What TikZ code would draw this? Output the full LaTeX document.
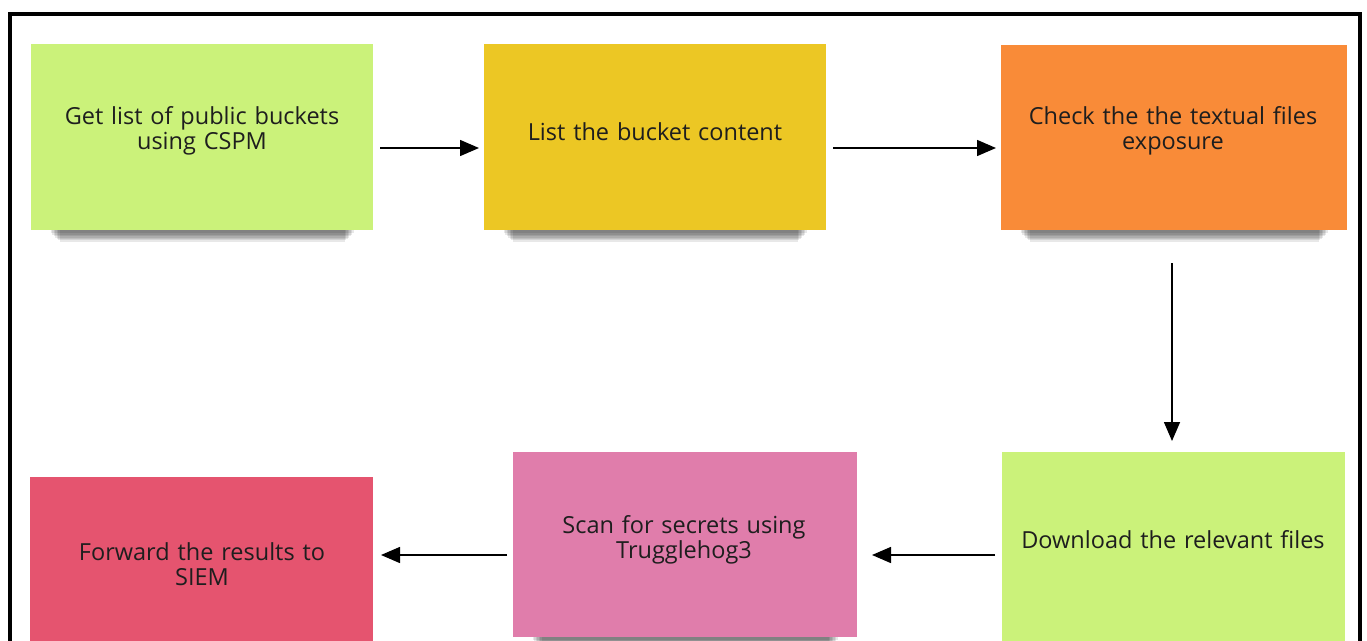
\documentclass[tikz,border=0pt]{standalone}
\usepackage{fontspec}
\setmainfont{Open Sans}
\usetikzlibrary{arrows.meta}
\definecolor{cgreen}{HTML}{CBF27A}
\definecolor{cyellow}{HTML}{ECC724}
\definecolor{corange}{HTML}{F98B38}
\definecolor{cpink}{HTML}{E07DAB}
\definecolor{cred}{HTML}{E5546F}
\definecolor{ctext}{HTML}{1E1E1E}
\tikzset{
  note/.style={draw=none, text=ctext, align=center, text width=330pt,
    font=\fontsize{23.5}{25.5}\selectfont},
  flow/.style={draw=black, line width=1.5pt, -{Triangle[length=19pt,width=16pt]}},
}
\newcommand{\sticky}[6]{% name, x1,y1,x2,y2, color
  \begin{scope}
    \foreach \k in {1,...,7}{
      \fill[black, opacity=0.09] ({#2+18+\k*1.5},{#5-8+\k*0.6}) rectangle ({#4-18-\k*1.5},{#5+2+\k*1.4});
    }
  \end{scope}
  \fill[#6] (#2,#3) rectangle (#4,#5);
  \coordinate (#1) at ({(#2+#4)/2},{(#3+#5)/2});
}
\begin{document}
\begin{tikzpicture}[x=1pt,y=-1pt]
\useasboundingbox (0,0) rectangle (1367,640);
\fill[white] (0,0) rectangle (1367,640);
\draw[line width=4pt, black] (10,660) -- (10,14) -- (1360,14) -- (1360,660);
% boxes
\sticky{c1}{31}{44}{373}{230}{cgreen}
\sticky{c2}{484}{44}{826}{230}{cyellow}
\sticky{c3}{1001}{45}{1347}{230}{corange}
\sticky{c4}{1002}{452}{1345}{648}{cgreen}
\sticky{c5}{513}{452}{857}{637}{cpink}
\sticky{c6}{30}{477}{373}{660}{cred}
\node[note] (n1) at (202,131) {Get list of public buckets\\using CSPM};
\node[note] (n2) at (655,132) {List the bucket content};
\node[note] (n3) at (1173,131) {Check the the textual files\\exposure};
\node[note] (n4) at (1173,540) {Download the relevant files};
\node[note] (n5) at (684,540) {Scan for secrets using\\Trugglehog3};
\node[note] (n6) at (202,564) {Forward the results to\\SIEM};
% anchor coordinates for connectors
\coordinate (a1s) at (380,148); \coordinate (a1e) at (479,148);
\coordinate (a2s) at (833,148); \coordinate (a2e) at (996,148);
\coordinate (a3s) at (1172,263); \coordinate (a3e) at (1172,441);
\coordinate (a4s) at (995,555); \coordinate (a4e) at (872,555);
\coordinate (a5s) at (507,555); \coordinate (a5e) at (381,555);
\draw[flow] (a1s) -- (a1e);
\draw[flow] (a2s) -- (a2e);
\draw[flow] (a3s) -- (a3e);
\draw[flow] (a4s) -- (a4e);
\draw[flow] (a5s) -- (a5e);
\end{tikzpicture}
\end{document}
